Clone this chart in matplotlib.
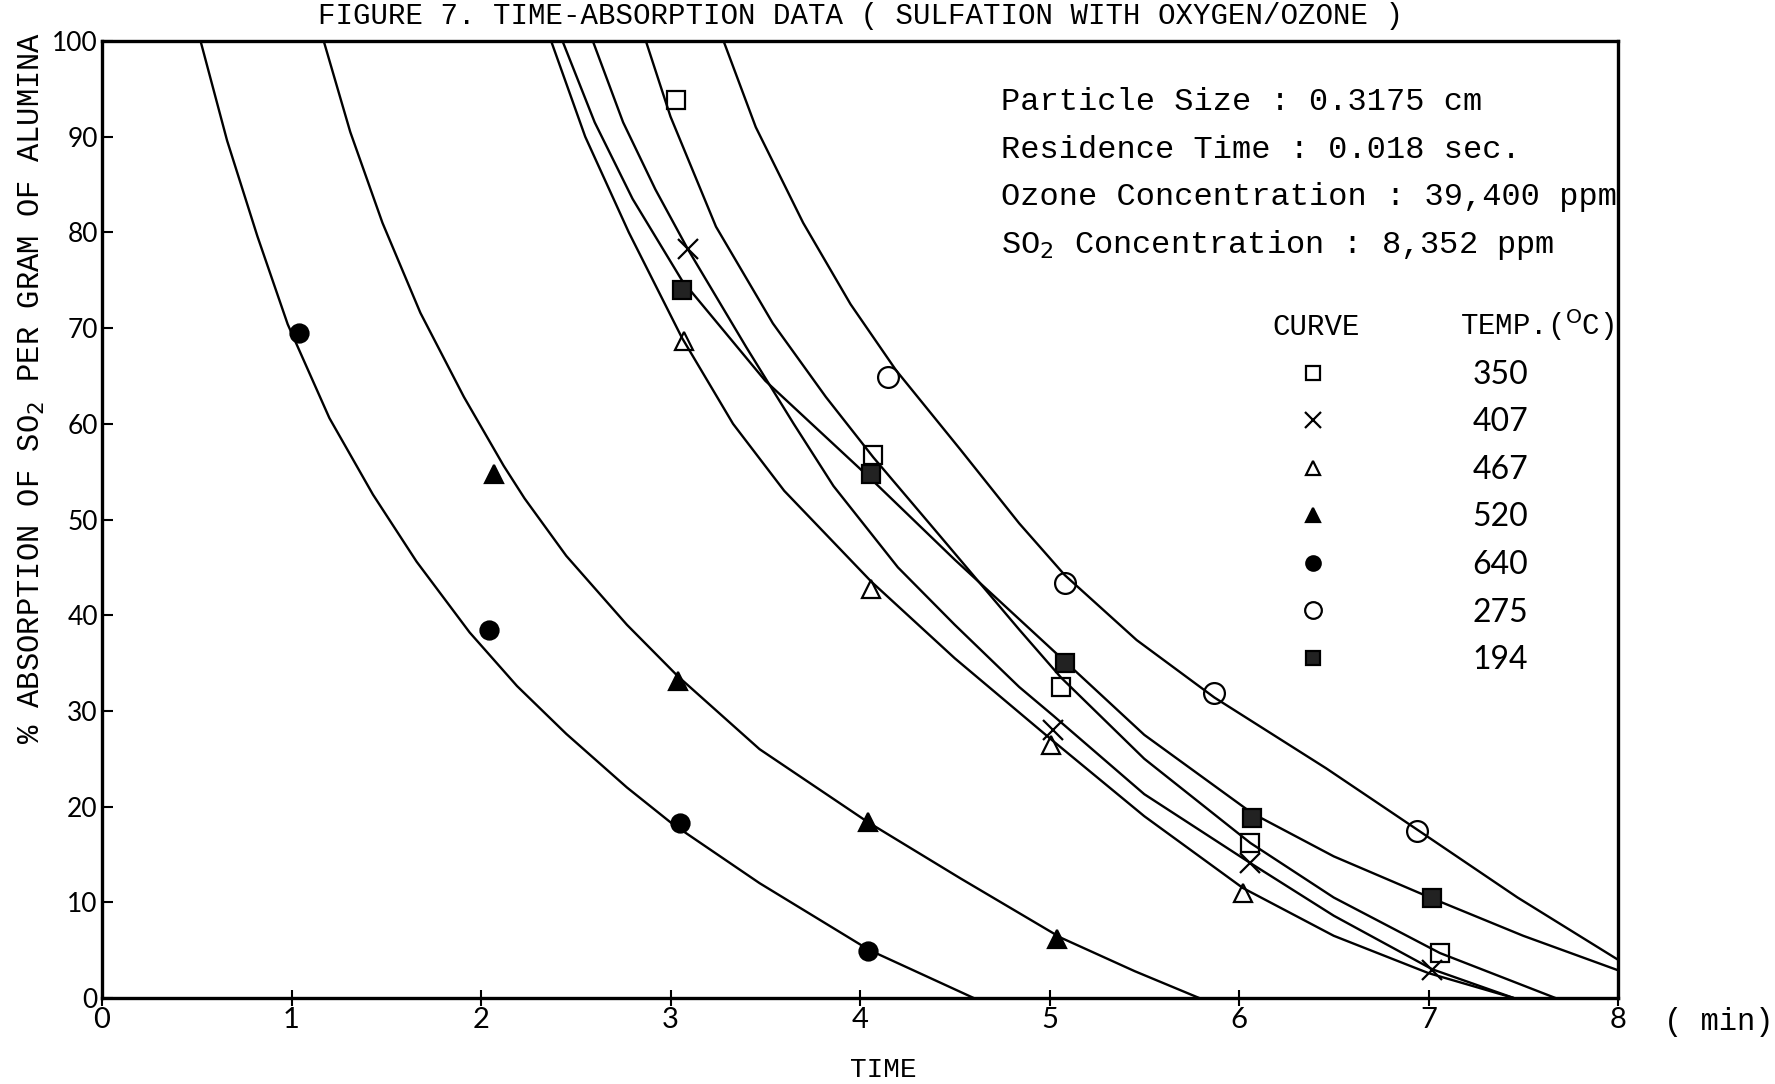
import matplotlib.pyplot as plt

plt.rcParams['font.family'] = ['Liberation Mono', 'DejaVu Sans Mono']
plt.rcParams['mathtext.fontset'] = 'dejavusans'

NUM_FONT = 'Lato'

# Temperatures (deg C) in legend order
temps = ["350", "407", "467", "520", "640", "275", "194"]

# Measured points: time (min) and % absorption
t_350 = [3.03, 4.07, 5.06, 6.06, 7.06]
a_350 = [93.8, 56.7, 32.5, 16.2, 4.7]
t_407 = [3.09, 5.02, 6.06, 7.02]
a_407 = [78.3, 28.0, 14.1, 2.9]
t_467 = [3.07, 4.06, 5.01, 6.02]
a_467 = [68.6, 42.7, 26.4, 11.0]
t_520 = [2.07, 3.04, 4.04, 5.04]
a_520 = [54.8, 33.1, 18.4, 6.2]
t_640 = [1.04, 2.04, 3.05, 4.04]
a_640 = [69.5, 38.5, 18.3, 4.9]
t_275 = [4.15, 5.08, 5.87, 6.94]
a_275 = [64.9, 43.4, 31.9, 17.4]
t_194 = [3.06, 4.06, 5.08, 6.07, 7.02]
a_194 = [74.0, 54.8, 35.0, 18.8, 10.4]

# Hand-fitted curves through each set of points
ct_350 = [2.87, 3.00, 3.24, 3.54, 3.82, 4.07, 4.40, 4.84, 5.06, 5.50, 6.06, 6.50, 7.06, 7.67]
ca_350 = [100, 92.1, 80.6, 70.5, 62.8, 56.5, 48.8, 38.5, 33.5, 25.0, 16.2, 10.5, 4.7, 0]
ct_407 = [2.59, 2.75, 2.92, 3.09, 3.40, 3.65, 3.86, 4.20, 4.50, 4.84, 5.02, 5.50, 6.06, 6.50, 7.02, 7.45]
ca_407 = [100, 91.5, 84.5, 78.3, 68.0, 60.0, 53.5, 45.0, 39.0, 32.5, 29.5, 21.3, 14.1, 8.6, 3.0, 0]
ct_467 = [2.37, 2.55, 2.78, 3.06, 3.33, 3.60, 4.06, 4.50, 5.01, 5.50, 6.02, 6.50, 7.00, 7.45]
ca_467 = [100, 90, 80, 69, 60, 53, 43.5, 35.5, 27.0, 19.0, 11.5, 6.5, 2.6, 0]
ct_520 = [1.17, 1.31, 1.48, 1.68, 1.91, 2.12, 2.23, 2.45, 2.77, 3.04, 3.47, 4.04, 4.53, 5.06, 5.45, 5.79]
ca_520 = [100, 90.5, 81.0, 71.6, 62.8, 55.6, 52.2, 46.2, 39.0, 33.6, 26.0, 18.4, 12.5, 6.3, 2.8, 0]
ct_640 = [0.52, 0.66, 0.82, 0.98, 1.20, 1.43, 1.66, 1.94, 2.19, 2.45, 2.77, 3.01, 3.47, 4.05, 4.60]
ca_640 = [100, 89.6, 79.6, 70.4, 60.6, 52.6, 45.6, 38.2, 32.6, 27.6, 22.0, 18.2, 12.0, 5.0, 0]
ct_275 = [3.28, 3.45, 3.70, 3.95, 4.19, 4.53, 4.84, 5.08, 5.46, 5.87, 6.46, 6.94, 7.47, 8.00]
ca_275 = [100, 91, 81, 72.5, 65.6, 57.3, 49.6, 44.2, 37.4, 31.4, 24.0, 17.6, 10.5, 4.0]
ct_194 = [2.43, 2.60, 2.80, 3.06, 3.50, 4.06, 4.50, 5.08, 5.50, 6.07, 6.50, 7.02, 7.50, 8.00]
ca_194 = [100, 91.5, 83.5, 75.0, 64.5, 54.2, 45.8, 35.2, 27.5, 19.3, 14.8, 10.4, 6.5, 2.9]

series = {
    "350": (t_350, a_350, ct_350, ca_350, 's', 'none', 13),
    "407": (t_407, a_407, ct_407, ca_407, 'x', 'black', 15),
    "467": (t_467, a_467, ct_467, ca_467, '^', 'none', 13),
    "520": (t_520, a_520, ct_520, ca_520, '^', 'black', 13),
    "640": (t_640, a_640, ct_640, ca_640, 'o', 'black', 13),
    "275": (t_275, a_275, ct_275, ca_275, 'o', 'none', 15),
    "194": (t_194, a_194, ct_194, ca_194, 's', '#222222', 13),
}

x_ticks = [0, 1, 2, 3, 4, 5, 6, 7, 8]
y_ticks = [0, 10, 20, 30, 40, 50, 60, 70, 80, 90, 100]

W, H = 1775, 1084
fig = plt.figure(figsize=(W / 100, H / 100), dpi=100)
ax = fig.add_axes([102 / W, 1 - 998 / H, 1516 / W, 957 / H])

handles = []
for name in temps:
    t, a, ct, ca, m, fc, ms = series[name]
    ax.plot(ct, ca, color='black', lw=1.7, solid_capstyle='round',
            solid_joinstyle='round', zorder=2)
    h, = ax.plot(t, a, ls='none', marker=m, ms=ms, mfc=fc, mec='black',
                 mew=1.6, zorder=3, label=name)
    handles.append(h)

ax.set_xlim(0, 8)
ax.set_ylim(0, 100)
for s in ax.spines.values():
    s.set_linewidth(2.4)

ax.set_xticks(x_ticks)
ax.set_xticklabels([str(v) for v in x_ticks], family=NUM_FONT, fontsize=21)
ax.set_yticks(y_ticks)
ax.set_yticklabels([str(v) for v in y_ticks], family=NUM_FONT, fontsize=19)
ax.tick_params(axis='x', direction='inout', length=11, width=1.5, pad=1)
ax.tick_params(axis='y', direction='in', length=8, width=1.5, pad=3)

# Test conditions
info = ["Particle Size : 0.3175 cm",
        "Residence Time : 0.018 sec.",
        "Ozone Concentration : 39,400 ppm",
        r"SO$_{2}$ Concentration : 8,352 ppm"]
for i, line in enumerate(info):
    fig.text(1001 / W, 1 - (110 + 47.7 * i) / H, line, fontsize=23,
             va='baseline', ha='left')

# Legend table
fig.text(1272 / W, 1 - 335 / H, "CURVE", fontsize=21, va='baseline')
fig.text(1460 / W, 1 - 335 / H, r"TEMP.($^{\mathrm{O}}$C)", fontsize=21,
         va='baseline')
ax.legend(handles=handles, loc='upper left', bbox_to_anchor=(0.788, 0.667),
          frameon=False, borderpad=0, borderaxespad=0, handlelength=1.0,
          handletextpad=4.5, labelspacing=0.55, markerscale=0.8,
          prop={'family': NUM_FONT, 'size': 23})

fig.text(861 / W, 1 - 24 / H,
         "FIGURE 7. TIME-ABSORPTION DATA ( SULFATION WITH OXYGEN/OZONE )",
         fontsize=21, ha='center', va='baseline')
fig.text(32 / W, 1 - 388 / H, r"% ABSORPTION OF SO$_{2}$ PER GRAM OF ALUMINA",
         rotation=90, fontsize=22, ha='center', va='center')
fig.text(883 / W, 1 - 1070 / H, "TIME", fontsize=20, ha='center', va='center')
fig.text(1664 / W, 1 - 1022 / H, "( min)", fontsize=22, ha='left', va='center')

fig.savefig('out.png', dpi=100)
